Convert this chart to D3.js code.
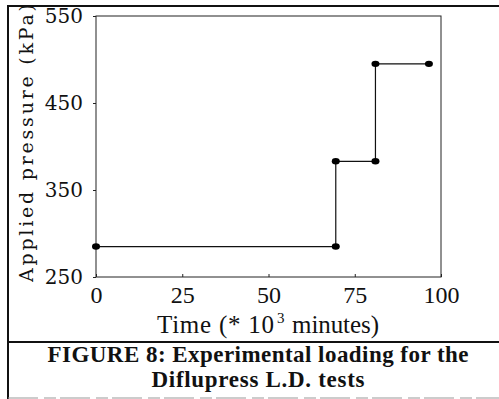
<!DOCTYPE html>
<html>
<head>
<meta charset="utf-8">
<script src="https://cdn.jsdelivr.net/npm/d3@7"></script>
<style>
  html, body { margin: 0; padding: 0; background: #fff; }
  svg { display: block; }
  .serif { font-family: 'Liberation Serif', 'Times New Roman', serif; }
  .wide { font-family: 'DejaVu Serif', serif; }
</style>
</head>
<body>
<div id="chart"></div>
<script>
// loading steps
const timeK = [0, 69.5, 69.5, 81, 81, 96.5];        // time (* 10^3 minutes)
const pressureKPa = [285, 285, 383, 383, 495, 495]; // applied pressure (kPa)
const xTicks = [0, 25, 50, 75, 100];
const yTicks = [250, 350, 450, 550];
const captionLines = ['FIGURE 8: Experimental loading for the', 'Diflupress L.D. tests'];

const W = 499, H = 399;
const margin = { top: 16, right: 58, bottom: 122, left: 96 };
const width = W - margin.left - margin.right;   // 345
const height = H - margin.top - margin.bottom;  // 261

const svg = d3.select('#chart').append('svg')
  .attr('width', W)
  .attr('height', H);

// outer figure frame
svg.append('line').attr('x1', 8).attr('x2', W).attr('y1', 6).attr('y2', 6)
  .attr('stroke', '#111').attr('stroke-width', 2);
svg.append('line').attr('x1', 8).attr('x2', 8).attr('y1', 5).attr('y2', H)
  .attr('stroke', '#111').attr('stroke-width', 2);
svg.append('line').attr('x1', 8).attr('x2', W).attr('y1', 342).attr('y2', 342)
  .attr('stroke', '#111').attr('stroke-width', 2);
svg.append('line').attr('x1', 8).attr('x2', W).attr('y1', 398).attr('y2', 398)
  .attr('stroke', '#999').attr('stroke-width', 1).attr('stroke-dasharray', '30 6 12 4');

const g = svg.append('g')
  .attr('transform', `translate(${margin.left},${margin.top})`);

const x = d3.scaleLinear().domain([0, 100]).range([0, width]);
const y = d3.scaleLinear().domain([250, 550]).range([height, 0]);

// plot box
g.append('rect')
  .attr('x', 0).attr('y', 0)
  .attr('width', width).attr('height', height)
  .attr('fill', 'none').attr('stroke', '#222').attr('stroke-width', 1);

const xAxis = g.append('g')
  .attr('transform', `translate(0,${height})`)
  .call(d3.axisBottom(x).tickValues(xTicks).tickSize(-3).tickPadding(9));
xAxis.attr('font-family', null).attr('font-size', null);
xAxis.select('.domain').remove();
xAxis.selectAll('.tick line').attr('stroke', '#222');
xAxis.selectAll('.tick text')
  .attr('class', 'serif')
  .style('font-size', '24px')
  .attr('fill', '#111');

const yAxis = g.append('g')
  .call(d3.axisLeft(y).tickValues(yTicks).tickSize(3).tickPadding(10));
yAxis.attr('font-family', null).attr('font-size', null);
yAxis.select('.domain').remove();
yAxis.selectAll('.tick line').attr('stroke', '#222');
yAxis.selectAll('.tick text')
  .attr('class', 'wide')
  .style('font-size', '20px')
  .attr('fill', '#111');

// step line + markers
const pts = timeK.map((t, i) => ({ t: t, p: pressureKPa[i] }));
g.append('path')
  .datum(pts)
  .attr('fill', 'none')
  .attr('stroke', '#111')
  .attr('stroke-width', 1.2)
  .attr('d', d3.line().x(d => x(d.t)).y(d => y(d.p)));

g.selectAll('.pt')
  .data(pts)
  .enter()
  .append('ellipse')
  .attr('class', 'pt')
  .attr('cx', d => x(d.t))
  .attr('cy', d => y(d.p))
  .attr('rx', 4)
  .attr('ry', 3.2)
  .attr('fill', '#000');

// y axis title
svg.append('text')
  .attr('class', 'wide')
  .attr('transform', 'translate(33,143) rotate(-90)')
  .attr('text-anchor', 'middle')
  .style('font-size', '19px')
  .attr('fill', '#111')
  .attr('textLength', 278)
  .attr('lengthAdjust', 'spacing')
  .text('Applied pressure (kPa)');

// x axis title, with raised exponent
const xt = svg.append('g')
  .attr('fill', '#111');
xt.append('text')
  .attr('class', 'serif')
  .attr('x', 157).attr('y', 333)
  .style('font-size', '25px')
  .attr('textLength', 117)
  .attr('lengthAdjust', 'spacing')
  .text('Time (* 10');
xt.append('text')
  .attr('class', 'serif')
  .attr('x', 277).attr('y', 323)
  .style('font-size', '15px')
  .text('3');
xt.append('text')
  .attr('class', 'serif')
  .attr('x', 292).attr('y', 333)
  .style('font-size', '25px')
  .attr('textLength', 87)
  .attr('lengthAdjust', 'spacing')
  .text('minutes)');

// caption
const capLen = [421, 213];
svg.selectAll('.caption')
  .data(captionLines)
  .enter()
  .append('text')
  .attr('class', 'caption serif')
  .attr('x', 258)
  .attr('y', (d, i) => 362 + i * 25)
  .attr('text-anchor', 'middle')
  .style('font-weight', 'bold')
  .style('font-size', '23px')
  .attr('fill', '#111')
  .attr('textLength', (d, i) => capLen[i])
  .attr('lengthAdjust', 'spacing')
  .text(d => d);
</script>
</body>
</html>
